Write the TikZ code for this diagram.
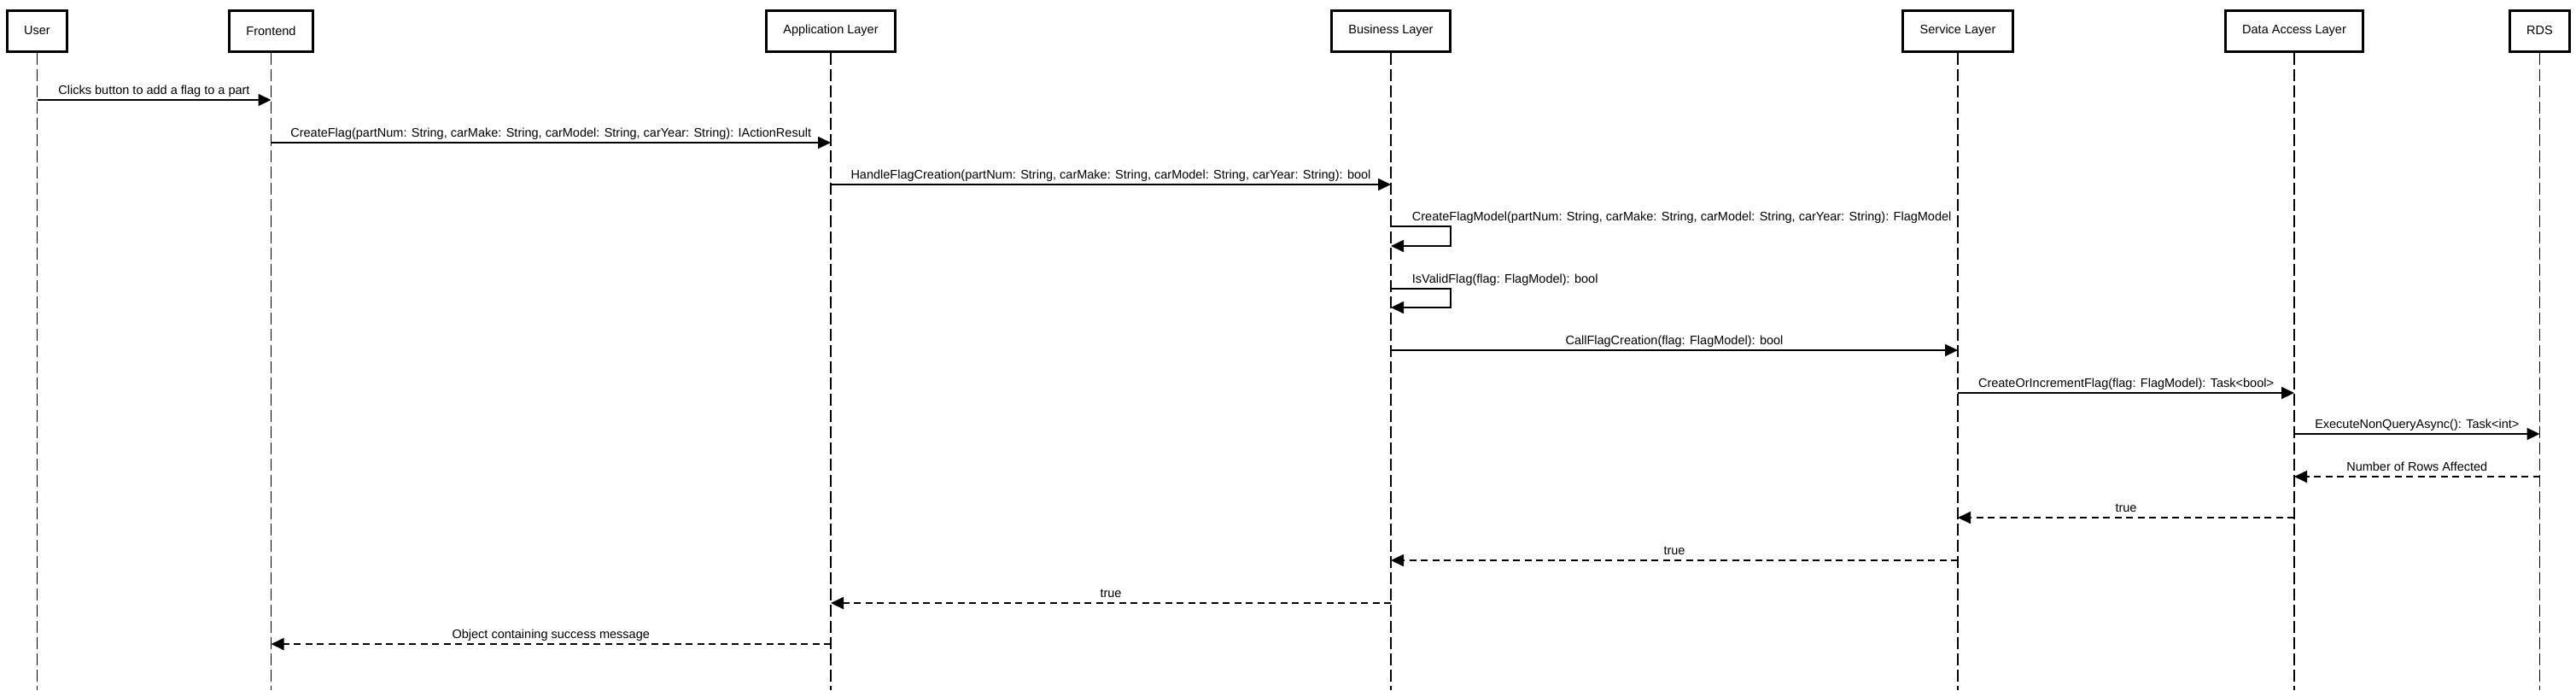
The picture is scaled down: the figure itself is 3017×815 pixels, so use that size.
\documentclass[tikz,border=0pt]{standalone}
\usepackage{fontspec}
\setmainfont{Liberation Sans}
\usepackage{tikz}
\usetikzlibrary{arrows.meta}

\begin{document}
\begin{tikzpicture}[x=0.5pt,y=-0.5pt,font=\fontsize{7.25}{8.7}\selectfont,
  actor/.style={draw,line width=1.5pt,minimum height=24pt,inner xsep=10pt},
  life/.style={line width=0.75pt,dash pattern=on 7pt off 2.5pt},
  call/.style={line width=0.9pt,-{Triangle[length=7.5pt,width=7pt]}},
  back/.style={call,dash pattern=on 4pt off 2.75pt},
  lbl/.style={anchor=base,yshift=3.5pt,inner sep=0pt}]
\useasboundingbox (0,0) rectangle (3017,815);
% participants
\node[actor] (usr) at (43.5,36) {User};
\node[actor] (fe) at (317.5,36) {Frontend};
\node[actor] (app) at (973,36) {Application Layer};
\node[actor] (bus) at (1629,36) {Business Layer};
\node[actor] (svc) at (2293,36) {Service Layer};
\node[actor] (dal) at (2687,36) {Data Access Layer};
\node[actor] (rds) at (2974.5,36) {RDS};
\foreach \n in {usr,fe,app,bus,svc,dal,rds}{\draw[life] (\n.south)--(\n |- 0,808);}
% calls
\draw[call] (usr |- 0,117)--(fe |- 0,117) node[midway,lbl] (t1) {Clicks button to add a flag to a part};
\draw[call] (fe |- 0,167)--(app |- 0,167) node[midway,lbl] (t2) {CreateFlag(partNum: String, carMake: String, carModel: String, carYear: String): IActionResult};
\draw[call] (app |- 0,216)--(bus |- 0,216) node[midway,lbl] (t3) {HandleFlagCreation(partNum: String, carMake: String, carModel: String, carYear: String): bool};
\draw[call] (bus |- 0,265) node[lbl,anchor=base west,xshift=12pt] (t4) {CreateFlagModel(partNum: String, carMake: String, carModel: String, carYear: String): FlagModel}
  --++(70,0)|-(bus |- 0,288);
\draw[call] (bus |- 0,338) node[lbl,anchor=base west,xshift=12pt] (t5) {IsValidFlag(flag: FlagModel): bool}
  --++(70,0)|-(bus |- 0,360);
\draw[call] (bus |- 0,410)--(svc |- 0,410) node[midway,lbl] (t6) {CallFlagCreation(flag: FlagModel): bool};
\draw[call] (svc |- 0,460)--(dal |- 0,460) node[midway,lbl] (t7) {CreateOrIncrementFlag(flag: FlagModel): Task<bool>};
\draw[call] (dal |- 0,508)--(rds |- 0,508) node[midway,lbl] (t8) {ExecuteNonQueryAsync(): Task<int>};
% returns
\draw[back] (rds |- 0,558)--(dal |- 0,558) node[midway,lbl] (t9) {Number of Rows Affected};
\draw[back] (dal |- 0,606)--(svc |- 0,606) node[midway,lbl] (t10) {true};
\draw[back] (svc |- 0,656)--(bus |- 0,656) node[midway,lbl] (t11) {true};
\draw[back] (bus |- 0,706)--(app |- 0,706) node[midway,lbl] (t12) {true};
\draw[back] (app |- 0,754)--(fe |- 0,754) node[midway,lbl] (t13) {Object containing success message};
\end{tikzpicture}
\end{document}
